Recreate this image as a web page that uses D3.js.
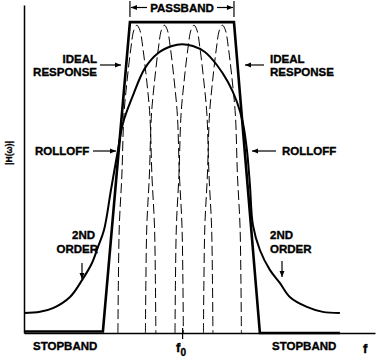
<!DOCTYPE html>
<html>
<head>
<meta charset="utf-8">
<script src="https://cdn.jsdelivr.net/npm/d3@7"></script>
<style>
  body { margin: 0; background: #fff; }
  svg { display: block; }
  text { font-family: "Liberation Sans", Arial, sans-serif; font-weight: bold; fill: #000; stroke: #000; stroke-width: 0.35; }
</style>
</head>
<body>
<script>
'use strict';

// ideal (brick wall-ish) response, f in units of f0, magnitude 0..1
var idealF = [0, 0.499, 0.670, 1.328, 1.492, 1.998];
var idealM = [0.005, 0.005, 1, 1, 0, 0];

// 2nd order response
var secondF = [0.000, 0.101, 0.183, 0.291, 0.367, 0.430, 0.468, 0.506, 0.550, 0.594, 0.626, 0.683, 0.765, 0.847, 0.936, 0.999,
               1.068, 1.144, 1.220, 1.290, 1.347, 1.385, 1.410, 1.429, 1.448, 1.492, 1.555, 1.618, 1.681, 1.789, 1.890, 1.998];
var secondM = [0.064, 0.068, 0.080, 0.116, 0.170, 0.225, 0.277, 0.331, 0.460, 0.588, 0.675, 0.756, 0.852, 0.900, 0.923, 0.929,
               0.923, 0.904, 0.862, 0.807, 0.743, 0.675, 0.588, 0.476, 0.347, 0.267, 0.203, 0.161, 0.116, 0.084, 0.068, 0.064];

// narrow resonances (dashed), centres and the shared hump shape
var humpCenters = [0.714, 0.888, 1.075, 1.255];
var humpDx = [-0.120, -0.117, -0.111, -0.095, -0.082, -0.063, -0.038, -0.019, 0, 0.019, 0.038, 0.063, 0.082, 0.095, 0.111, 0.117, 0.120];
var humpM  = [0, 0.170, 0.347, 0.508, 0.701, 0.807, 0.916, 0.974, 0.99, 0.974, 0.916, 0.807, 0.701, 0.508, 0.347, 0.170, 0];

var f0 = 1;

var svg = d3.select("body").append("svg")
    .attr("width", 376)
    .attr("height", 362);

var x = d3.scaleLinear().domain([0, 2.22]).range([24, 375]);
var y = d3.scaleLinear().domain([0, 1.055]).range([333, 5]);

var line = d3.line()
    .x(function(d) { return x(d[0]); })
    .y(function(d) { return y(d[1]); });

// dashed humps
humpCenters.forEach(function(c) {
    var pts = humpDx.map(function(dx, i) { return [c + dx, humpM[i]]; });
    svg.append("path")
        .attr("d", line.curve(d3.curveCatmullRom)(pts))
        .attr("fill", "none")
        .attr("stroke", "#000")
        .attr("stroke-width", 1)
        .attr("stroke-dasharray", "10,4");
});

// ideal response
svg.append("path")
    .attr("d", line.curve(d3.curveLinear)(idealF.map(function(f, i) { return [f, idealM[i]]; })))
    .attr("fill", "none")
    .attr("stroke", "#000")
    .attr("stroke-width", 2.6)
    .attr("stroke-linejoin", "miter");

// 2nd order
svg.append("path")
    .attr("d", line.curve(d3.curveCatmullRom.alpha(0.5))(secondF.map(function(f, i) { return [f, secondM[i]]; })))
    .attr("fill", "none")
    .attr("stroke", "#000")
    .attr("stroke-width", 2);

// axes
var xAxis = svg.append("g")
    .attr("transform", "translate(0," + y(0) + ")")
    .call(d3.axisBottom(x).tickValues([f0]).tickFormat("").tickSizeInner(6).tickSizeOuter(0));
xAxis.select(".domain").attr("stroke-width", 1.5);
xAxis.selectAll(".tick line").attr("y1", -5).attr("stroke-width", 1.2);

var yAxis = svg.append("g")
    .attr("transform", "translate(" + x(0) + ",0)")
    .call(d3.axisLeft(y).tickValues([]).tickSizeOuter(0));
yAxis.select(".domain").attr("stroke-width", 1.5);

// arrows helper
function arrow(x1, y1, x2, y2) {
    svg.append("line")
        .attr("x1", x1).attr("y1", y1).attr("x2", x2).attr("y2", y2)
        .attr("stroke", "#000").attr("stroke-width", 1.2);
    var a = Math.atan2(y2 - y1, x2 - x1), L = 6, W = 2.5;
    var bx = x2 - L * Math.cos(a), by = y2 - L * Math.sin(a);
    svg.append("path")
        .attr("d", "M" + x2 + "," + y2 +
            "L" + (bx + W * Math.sin(a)) + "," + (by - W * Math.cos(a)) +
            "L" + (bx - W * Math.sin(a)) + "," + (by + W * Math.cos(a)) + "Z")
        .attr("fill", "#000");
}

function label(t, tx, ty, anchor, size) {
    return svg.append("text")
        .attr("x", tx).attr("y", ty)
        .attr("text-anchor", anchor || "start")
        .attr("font-size", size || 11.5)
        .text(t);
}

// passband marker
svg.append("line").attr("x1", x(idealF[2])).attr("x2", x(idealF[2])).attr("y1", 1).attr("y2", 17)
    .attr("stroke", "#000").attr("stroke-width", 1.2);
svg.append("line").attr("x1", x(idealF[3])).attr("x2", x(idealF[3])).attr("y1", 1).attr("y2", 17)
    .attr("stroke", "#000").attr("stroke-width", 1.2);
arrow(147, 7.5, x(idealF[2]) + 1, 7.5);
arrow(217, 7.5, x(idealF[3]) - 1, 7.5);
label("PASSBAND", 182, 12, "middle", 11.5);

// ideal response labels
label("IDEAL", 97, 63, "end");
label("RESPONSE", 97, 76, "end");
arrow(100, 65, 121, 65);
label("IDEAL", 270, 63, "start");
label("RESPONSE", 270, 76, "start");
arrow(264, 65, 245, 65);

// rolloff
label("ROLLOFF", 35, 155, "start");
arrow(93, 151, 116, 151);
label("ROLLOFF", 282, 155, "start");
arrow(276, 151, 252, 151);

// 2nd order
label("2ND", 95, 239, "end");
label("ORDER", 98, 253, "end");
arrow(82, 263, 82, 279);
label("2ND", 270, 239, "start");
label("ORDER", 270, 253, "start");
arrow(282, 261, 282, 277);

// stopbands
label("STOPBAND", 33, 350, "start");
label("STOPBAND", 272, 350, "start");

// f0 and f
var f0t = svg.append("text").attr("x", x(f0) - 6).attr("y", 352).attr("font-size", 13);
f0t.append("tspan").text("f");
f0t.append("tspan").attr("dy", 4).attr("font-size", 10).text("0");
label("f", 363, 353, "start", 13);

// y label
svg.append("text")
    .attr("transform", "translate(12,153) rotate(-90)")
    .attr("text-anchor", "middle")
    .attr("font-size", 8.5)
    .text("|H(ω)|");
</script>
</body>
</html>
